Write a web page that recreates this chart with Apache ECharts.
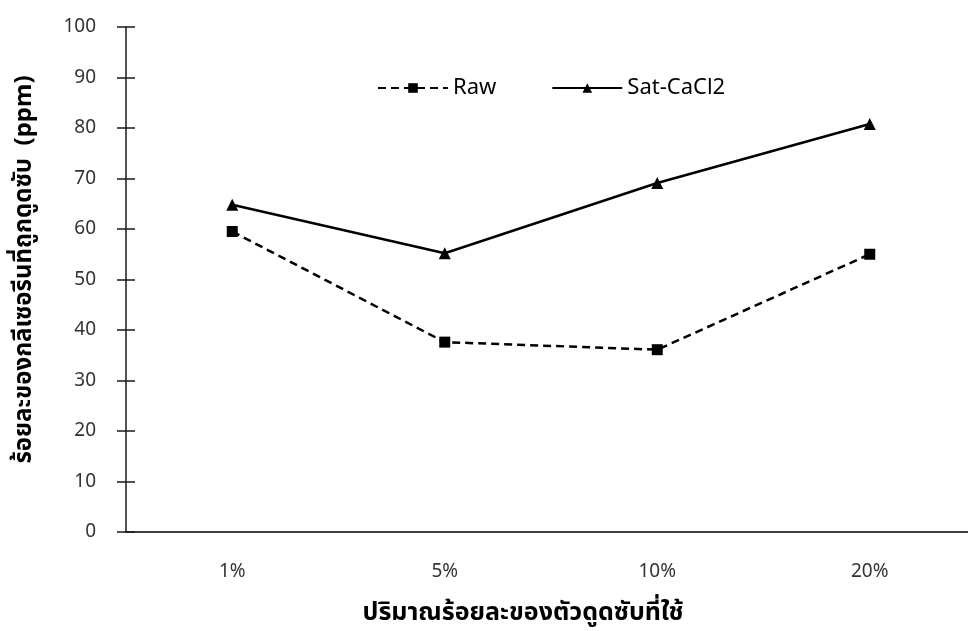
<!DOCTYPE html>
<html>
<head>
<meta charset="utf-8">
<script src="https://cdn.jsdelivr.net/npm/echarts@6/dist/echarts.min.js"></script>
<style>html,body{margin:0;padding:0;background:#fff}#c{width:968px;height:631px}</style>
</head>
<body>
<div id="c"></div>
<script>
const categories = ['1%', '5%', '10%', '20%'];
const rawValues = [59.5, 37.6, 36.1, 55.0];
const satValues = [64.8, 55.2, 69.1, 80.8];
const seriesNames = ['Raw', 'Sat-CaCl2'];
const yTitle = 'ร้อยละของกลีเซอรีนที่ถูกดูดซับ  (ppm)';
const xTitle = 'ปริมาณร้อยละของตัวดูดซับที่ใช้';

const FONT = '"Noto Sans", "Noto Sans Thai", "Open Sans", sans-serif';
const chart = echarts.init(document.getElementById('c'), null, {renderer: 'canvas'});
const yCommon = {type: 'value', min: 0, max: 100, interval: 10, splitLine: {show: false}};
const xCommon = {type: 'category', data: categories, boundaryGap: true};
chart.setOption({
  animation: false,
  backgroundColor: '#fff',
  grid: {left: 126, top: 27, bottom: 99, width: 850, containLabel: false, outerBoundsMode: 'none'},
  legend: {
    left: 372, top: 72, itemWidth: 70, itemHeight: 12, itemGap: 55,
    textStyle: {fontFamily: FONT, fontSize: 22, color: '#000'},
    data: seriesNames
  },
  xAxis: [
    Object.assign({}, xCommon, {
      axisLine: {lineStyle: {color: '#404040', width: 2}},
      axisTick: {alignWithLabel: true, inside: false, length: 6, lineStyle: {color: '#000', width: 1.5}},
      axisLabel: {margin: 30, fontFamily: FONT, fontSize: 19, color: '#333'},
      name: xTitle, nameLocation: 'middle', nameGap: 68,
      nameTextStyle: {fontFamily: FONT, fontSize: 25, fontWeight: 'bold', color: '#000', padding: [0, 56, 0, 0]}
    }),
    Object.assign({}, xCommon, {
      position: 'bottom',
      axisLine: {show: false},
      axisTick: {alignWithLabel: true, inside: true, length: 6, lineStyle: {color: '#000', width: 1.5}},
      axisLabel: {show: false}
    })
  ],
  yAxis: [
    Object.assign({}, yCommon, {
      axisLine: {show: true, lineStyle: {color: '#1a1a1a', width: 1.5}},
      axisTick: {show: true, inside: false, length: 9, lineStyle: {color: '#1a1a1a', width: 1.5}},
      axisLabel: {margin: 30, fontFamily: FONT, fontSize: 19, color: '#333'},
      name: yTitle, nameLocation: 'middle', nameGap: 90, nameRotate: 90,
      nameTextStyle: {fontFamily: FONT, fontSize: 24, fontWeight: 'bold', color: '#000', padding: [0, 0, 0, 20]}
    }),
    Object.assign({}, yCommon, {
      position: 'left',
      axisLine: {show: false},
      axisTick: {show: true, inside: true, length: 9, lineStyle: {color: '#1a1a1a', width: 1.5}},
      axisLabel: {show: false}
    })
  ],
  series: [
    {
      name: seriesNames[0], type: 'line', data: rawValues,
      symbol: 'rect', symbolSize: 11,
      lineStyle: {color: '#000', width: 2.5, type: [8, 5]},
      itemStyle: {color: '#000'}
    },
    {
      name: seriesNames[1], type: 'line', data: satValues,
      symbol: 'triangle', symbolSize: 12,
      lineStyle: {color: '#000', width: 2.5, type: 'solid'},
      itemStyle: {color: '#000'}
    }
  ]
});
</script>
</body>
</html>
